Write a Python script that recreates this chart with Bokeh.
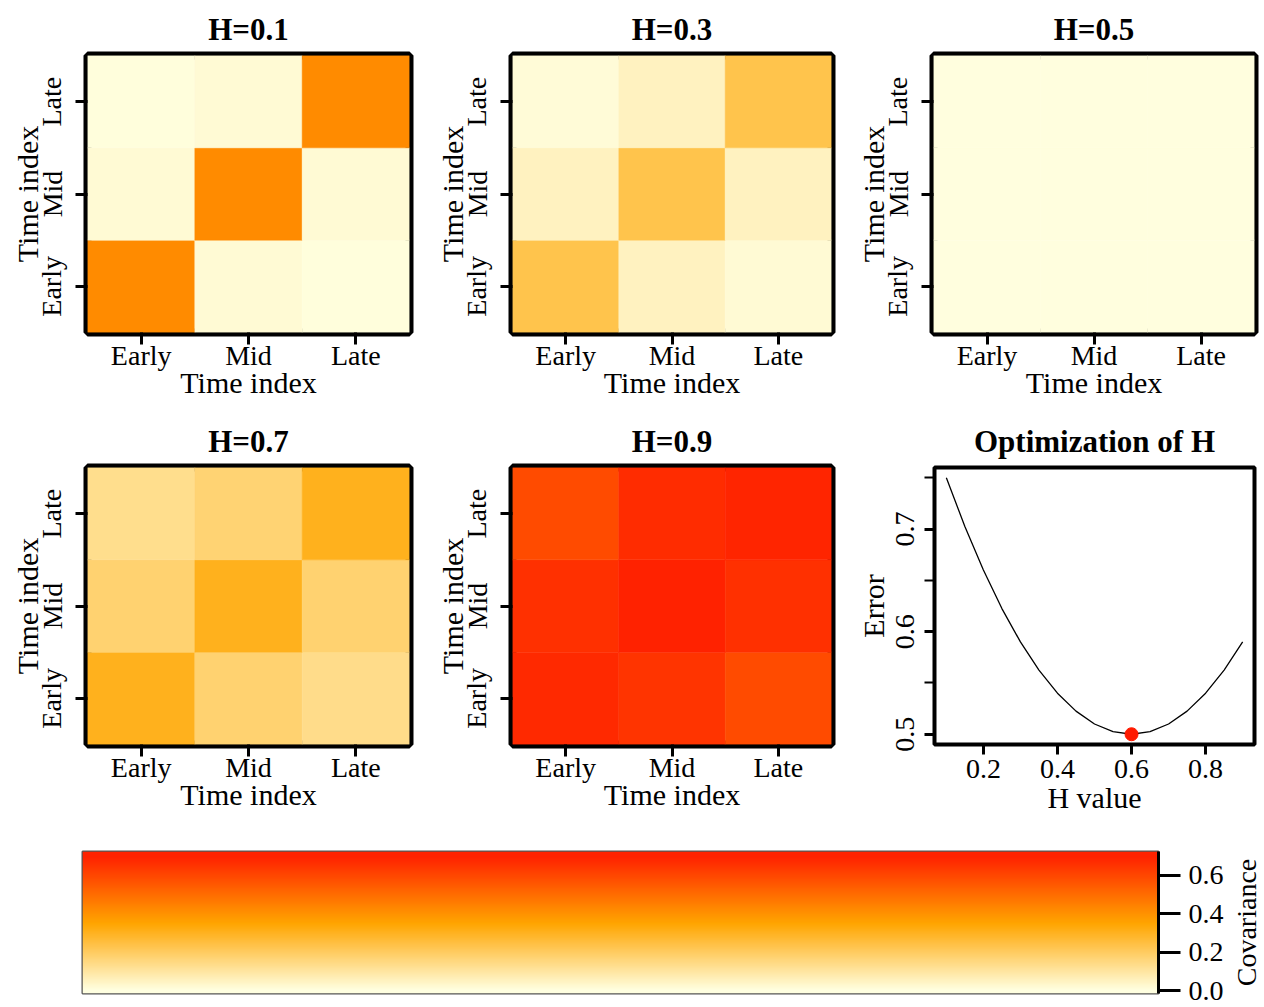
import math
import numpy as np
from bokeh.plotting import figure
from bokeh.models import (LinearColorMapper, ColumnDataSource, FixedTicker,
                          FactorRange, Range1d, PrintfTickFormatter)
from bokeh.core.properties import value
from bokeh.layouts import column, row
from bokeh.embed import file_html
from bokeh.resources import INLINE

# ---------------- data ----------------
cats = ["Early", "Mid", "Late"]
h_titles = ["H=0.1", "H=0.3", "H=0.5", "H=0.7", "H=0.9"]
# rows: y = Early, Mid, Late ; columns: x = Early, Mid, Late
cov_h01 = [[0.42, 0.02, 0.008], [0.02, 0.42, 0.02], [0.006, 0.02, 0.42]]
cov_h03 = [[0.23, 0.05, 0.02], [0.05, 0.23, 0.05], [0.015, 0.05, 0.23]]
cov_h05 = [[0.004, 0.004, 0.004], [0.004, 0.004, 0.004], [0.004, 0.004, 0.004]]
cov_h07 = [[0.305, 0.175, 0.135], [0.175, 0.305, 0.175], [0.13, 0.17, 0.305]]
cov_h09 = [[0.68, 0.65, 0.59], [0.66, 0.70, 0.66], [0.59, 0.67, 0.69]]

h_grid = [0.10, 0.15, 0.20, 0.25, 0.30, 0.35, 0.40, 0.45, 0.50,
          0.55, 0.60, 0.65, 0.70, 0.75, 0.80, 0.85, 0.90]
error_vals = [0.750, 0.7025, 0.660, 0.6225, 0.590, 0.5625, 0.540, 0.5225, 0.510,
              0.5025, 0.500, 0.5025, 0.510, 0.5225, 0.540, 0.5625, 0.590]
opt_h = [0.6]
opt_error = [0.5]

opt_x_ticks = [0.2, 0.4, 0.6, 0.8]
opt_y_ticks = [0.5, 0.6, 0.7]
opt_y_minor = [0.55, 0.65, 0.75]
cbar_ticks = [0.0, 0.2, 0.4, 0.6]
cbar_label = "Covariance"

# ---------------- style ----------------
FONT = "Liberation Serif"
stops = [(255, 255, 224), (255, 165, 0), (255, 34, 0)]


def make_palette(n=256):
    pal = []
    for i in range(n):
        t = i / (n - 1) * 2
        k = min(int(t), 1)
        f = t - k
        c1, c2 = stops[k], stops[k + 1]
        rgb = [round(c1[j] + (c2[j] - c1[j]) * f) for j in range(3)]
        pal.append("#%02x%02x%02x" % tuple(rgb))
    return pal


mapper = LinearColorMapper(palette=make_palette(), low=0.0, high=0.7)

FRAME_W = 322
FRAME_H = 277
TICK_FS = "28px"
LABEL_FS = "30px"
TITLE_FS = "31px"


def style_axes(p, tick_out):
    p.grid.visible = False
    p.background_fill_color = "white"
    p.border_fill_color = "white"
    for ax in (p.xaxis[0], p.yaxis[0]):
        ax.axis_line_color = None
        ax.major_tick_line_color = "black"
        ax.major_tick_line_width = 3
        ax.major_tick_in = 0
        ax.major_tick_out = tick_out
        ax.minor_tick_line_color = None
        ax.major_label_text_font = FONT
        ax.major_label_text_font_size = TICK_FS
        ax.major_label_text_color = "black"
        ax.axis_label_text_font = FONT
        ax.axis_label_text_font_size = LABEL_FS
        ax.axis_label_text_font_style = "normal"
        ax.axis_label_text_color = "black"
    p.yaxis.major_label_orientation = "parallel"
    p.title.text_font = FONT
    p.title.text_font_size = TITLE_FS
    p.title.text_font_style = "bold"
    p.title.text_color = "black"
    p.title.align = "center"
    p.title.standoff = 18


def make_heat(title, mat, left, right, top, bottom):
    xs, ys, vals = [], [], []
    for i, yc in enumerate(cats):
        for j, xc in enumerate(cats):
            xs.append(xc)
            ys.append(yc)
            vals.append(mat[i][j])
    src = ColumnDataSource(dict(x=xs, y=ys, val=vals))
    p = figure(width=left + FRAME_W + right, height=top + FRAME_H + bottom,
               x_range=FactorRange(*cats), y_range=FactorRange(*cats),
               output_backend="svg", toolbar_location=None, title=title,
               min_border_left=left, min_border_right=right,
               min_border_top=top, min_border_bottom=bottom)
    p.rect(x="x", y="y", width=1, height=1, source=src,
           fill_color={"field": "val", "transform": mapper},
           line_color={"field": "val", "transform": mapper}, line_width=0.5)
    p.xaxis.axis_label = "Time index"
    p.yaxis.axis_label = "Time index"
    style_axes(p, 12)
    p.outline_line_color = "black"
    p.outline_line_width = 8
    p.xaxis.major_label_standoff = -5
    p.xaxis.axis_label_standoff = -8
    p.yaxis.major_label_standoff = 8
    p.yaxis.axis_label_standoff = -10
    return p


def make_opt(left, right, top, bottom):
    p = figure(width=left + FRAME_W + right, height=top + FRAME_H + bottom,
               x_range=Range1d(0.068, 0.932), y_range=Range1d(0.49, 0.76),
               output_backend="svg", toolbar_location=None,
               title="Optimization of H",
               min_border_left=left, min_border_right=right,
               min_border_top=top, min_border_bottom=bottom)
    p.line(h_grid, error_vals, line_color="black", line_width=1.3)
    p.scatter(opt_h, opt_error, size=13, color="#ff1a00")
    p.xaxis.axis_label = "H value"
    p.yaxis.axis_label = "Error"
    style_axes(p, 10)
    p.outline_line_color = "black"
    p.outline_line_width = 4
    p.xaxis.ticker = FixedTicker(ticks=opt_x_ticks)
    p.yaxis.ticker = FixedTicker(ticks=opt_y_ticks, minor_ticks=opt_y_minor)
    p.yaxis.minor_tick_line_color = "black"
    p.yaxis.minor_tick_line_width = 2
    p.yaxis.minor_tick_in = 0
    p.yaxis.minor_tick_out = 10
    p.xaxis.major_label_standoff = 5
    p.xaxis.axis_label_standoff = 0
    p.yaxis.major_label_standoff = 10
    p.yaxis.axis_label_standoff = 4
    return p


mats = [cov_h01, cov_h03, cov_h05, cov_h07, cov_h09]
borders = [(87, 23), (77, 22), (79, 6)]

row1 = row(*[make_heat(h_titles[k], mats[k], borders[k][0], borders[k][1], 55, 80)
             for k in range(3)])
row2 = row(make_heat(h_titles[3], mats[3], borders[0][0], borders[0][1], 55, 91),
           make_heat(h_titles[4], mats[4], borders[1][0], borders[1][1], 55, 91),
           make_opt(borders[2][0], borders[2][1], 55, 91))

# ---------------- colour bar ----------------
CB_LEFT, CB_FRAME_W, CB_RIGHT = 82, 1076, 72
CB_TOP, CB_FRAME_H, CB_BOTTOM = 16, 142, 14
cb_lo, cb_hi = -0.015, 0.725
cb = figure(width=CB_LEFT + CB_FRAME_W + CB_RIGHT, height=CB_TOP + CB_FRAME_H + CB_BOTTOM,
            x_range=Range1d(0, 1), y_range=Range1d(cb_lo, cb_hi),
            output_backend="svg", toolbar_location=None, x_axis_type=None,
            y_axis_location="right",
            min_border_left=CB_LEFT, min_border_right=CB_RIGHT,
            min_border_top=CB_TOP, min_border_bottom=CB_BOTTOM)
grad = np.linspace(cb_lo, cb_hi, 300).reshape(-1, 1)
cb.image(image=[grad], x=0, y=cb_lo, dw=1, dh=cb_hi - cb_lo, color_mapper=mapper)
cb.grid.visible = False
cb.outline_line_color = "#555555"
cb.outline_line_width = 2
ax = cb.yaxis[0]
ax.ticker = FixedTicker(ticks=cbar_ticks)
ax.formatter = PrintfTickFormatter(format="%.1f")
ax.axis_line_color = "black"
ax.axis_line_width = 3
ax.major_tick_line_color = "black"
ax.major_tick_line_width = 3
ax.major_tick_in = 0
ax.major_tick_out = 22
ax.minor_tick_line_color = None
ax.major_label_standoff = 8
ax.major_label_text_font = FONT
ax.major_label_text_font_size = TICK_FS
ax.major_label_text_color = "black"

# side figure carrying the rotated colour-bar title
lab = figure(width=32, height=CB_TOP + CB_FRAME_H + CB_BOTTOM,
             x_range=Range1d(0, 1), y_range=Range1d(cb_lo, cb_hi),
             output_backend="svg", toolbar_location=None,
             x_axis_type=None, y_axis_type=None,
             min_border_left=0, min_border_right=0,
             min_border_top=CB_TOP, min_border_bottom=CB_BOTTOM)
lab.grid.visible = False
lab.outline_line_color = None
lab.text(x=[0.5], y=[(cb_lo + cb_hi) / 2], text=[cbar_label], angle=math.pi / 2,
         text_align="center", text_baseline="middle",
         text_font=value(FONT), text_font_size="28px", text_color="black")

layout = column(row1, row2, row(cb, lab))

with open("out.html", "w") as f:
    f.write(file_html(layout, INLINE))
